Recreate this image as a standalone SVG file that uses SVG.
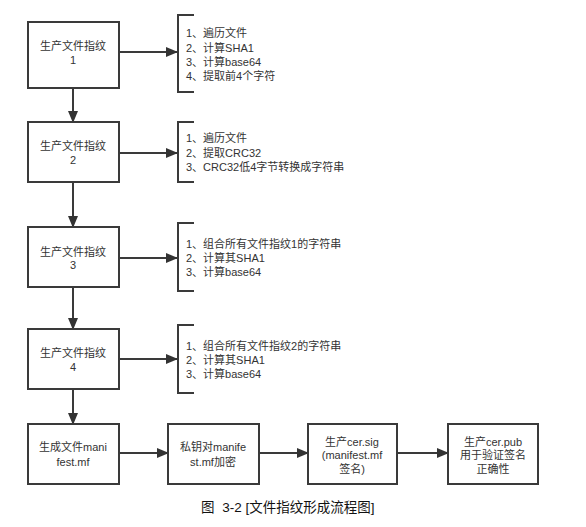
<svg xmlns="http://www.w3.org/2000/svg" width="586" height="527" viewBox="0 0 586 527">
<style>
.box{fill:#fff;stroke:#3a3a3a;stroke-width:2}
.t{font-family:"Liberation Sans","Noto Sans CJK SC",sans-serif;font-size:11px;fill:#333}
.c{text-anchor:middle}
.br{fill:none;stroke:#3a3a3a;stroke-width:2}
.ln{fill:none;stroke:#3a3a3a;stroke-width:2;marker-end:url(#ah)}
.cap{font-family:"Liberation Sans","Noto Sans CJK SC",sans-serif;font-size:13.5px;fill:#111}
</style>
<defs>
<marker id="ah" markerWidth="12" markerHeight="10" refX="11" refY="5" orient="auto" markerUnits="userSpaceOnUse">
<path d="M0,0 L12,5 L0,10 Z" fill="#333"/>
</marker>
</defs>
<rect width="586" height="527" fill="#fff"/>
<g id="connectors">
<path class="ln" d="M119,52 H177"/>
<path class="ln" d="M119,153 H177"/>
<path class="ln" d="M119,258 H177"/>
<path class="ln" d="M119,359 H177"/>
<path class="ln" d="M73,88 V122"/>
<path class="ln" d="M73,182 V227"/>
<path class="ln" d="M73,287 V329"/>
<path class="ln" d="M73,389 V424"/>
<path class="ln" d="M119,453 H168"/>
<path class="ln" d="M259,453 H308"/>
<path class="ln" d="M397,453 H448"/>
</g>
<g id="node1">
<rect class="box" x="28" y="22" width="91" height="66"/>
<text class="t c" x="73" y="50">生产文件指纹</text>
<text class="t c" x="73" y="64">1</text>
</g>
<g id="note1">
<path class="br" d="M194,15 H178 V92 H194"/>
<text class="t" x="186" y="37">1、遍历文件</text>
<text class="t" x="186" y="52">2、计算SHA1</text>
<text class="t" x="186" y="66">3、计算base64</text>
<text class="t" x="186" y="80">4、提取前4个字符</text>
</g>
<g id="node2">
<rect class="box" x="28" y="122" width="91" height="60"/>
<text class="t c" x="73" y="150">生产文件指纹</text>
<text class="t c" x="73" y="164">2</text>
</g>
<g id="note2">
<path class="br" d="M194,122 H178 V182 H194"/>
<text class="t" x="186" y="142">1、遍历文件</text>
<text class="t" x="186" y="157">2、提取CRC32</text>
<text class="t" x="186" y="171">3、CRC32低4字节转换成字符串</text>
</g>
<g id="node3">
<rect class="box" x="28" y="227" width="91" height="60"/>
<text class="t c" x="73" y="256">生产文件指纹</text>
<text class="t c" x="73" y="269">3</text>
</g>
<g id="note3">
<path class="br" d="M194,223 H178 V291 H194"/>
<text class="t" x="186" y="248">1、组合所有文件指纹1的字符串</text>
<text class="t" x="186" y="262">2、计算其SHA1</text>
<text class="t" x="186" y="276">3、计算base64</text>
</g>
<g id="node4">
<rect class="box" x="28" y="329" width="91" height="60"/>
<text class="t c" x="73" y="357">生产文件指纹</text>
<text class="t c" x="73" y="371">4</text>
</g>
<g id="note4">
<path class="br" d="M194,325 H178 V393 H194"/>
<text class="t" x="186" y="350">1、组合所有文件指纹2的字符串</text>
<text class="t" x="186" y="364">2、计算其SHA1</text>
<text class="t" x="186" y="378">3、计算base64</text>
</g>
<g id="node5">
<rect class="box" x="28" y="424" width="91" height="60"/>
<text class="t c" x="73" y="451">生成文件mani</text>
<text class="t c" x="73" y="466">fest.mf</text>
</g>
<g id="node6">
<rect class="box" x="168" y="424" width="91" height="60"/>
<text class="t c" x="213" y="451">私钥对manife</text>
<text class="t c" x="213" y="466">st.mf加密</text>
</g>
<g id="node7">
<rect class="box" x="308" y="424" width="89" height="60"/>
<text class="t c" x="352" y="446">生产cer.sig</text>
<text class="t c" x="352" y="459">(manifest.mf</text>
<text class="t c" x="352" y="473">签名)</text>
</g>
<g id="node8">
<rect class="box" x="448" y="424" width="90" height="60"/>
<text class="t c" x="493" y="446">生产cer.pub</text>
<text class="t c" x="493" y="459">用于验证签名</text>
<text class="t c" x="493" y="473">正确性</text>
</g>
<text class="cap" x="201" y="512">图 <tspan dx="4">3-2 [文件指纹形成流程图]</tspan></text>
</svg>
